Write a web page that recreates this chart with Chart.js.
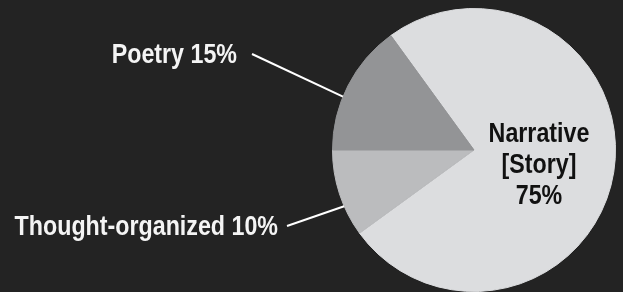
<!DOCTYPE html>
<html lang="en">
<head>
    <meta charset="UTF-8">
    <title>Narrative vs Poetry vs Thought-organized</title>
    <script src="https://cdn.jsdelivr.net/npm/chart.js"></script>
    <style>
        html, body { margin: 0; padding: 0; background: #232323; }
        .chart-container { width: 623px; height: 292px; position: relative; }
    </style>
</head>
<body>
    <div class="chart-container">
        <canvas id="pieChart"></canvas>
    </div>

    <script>
        // data, in drawing order (clockwise)
        const categories = ['Narrative', 'Thought-organized', 'Poetry'];
        const shares = [75, 10, 15];
        const labelLines = [['Narrative', '[Story]', '75%'], ['Thought-organized 10%'], ['Poetry 15%']];

        const sliceColors = ['#dcdddf', '#bbbcbe', '#939496'];
        const fontFamily = '"Liberation Sans", Arial, sans-serif';
        const narrowFactor = 0.83;   // no condensed face installed, so squeeze the regular one

        // where each label sits, relative to the pie centre
        // leader: fraction along the slice where the line touches the rim (null = label inside)
        const labelStyle = [
            { dx: 65, dy: -8, align: 'center', color: '#111111', leader: null },
            { dx: -196, dy: 85, align: 'right', color: '#f4f4f4', leader: 0.35, gap: 9, lineDy: -9 },
            { dx: -237, dy: -87, align: 'right', color: '#f4f4f4', leader: 0.41, gap: 15, lineDy: -9 }
        ];

        const labelPlugin = {
            id: 'pieLabels',
            afterDraw(chart) {
                const ctx = chart.ctx;
                const arcs = chart.getDatasetMeta(0).data;
                arcs.forEach((arc, i) => {
                    const st = labelStyle[i];
                    const p = arc.getProps(['x', 'y', 'startAngle', 'endAngle', 'outerRadius'], true);
                    const tx = p.x + st.dx;
                    const ty = p.y + st.dy;

                    ctx.save();
                    ctx.translate(tx, ty);
                    ctx.scale(narrowFactor, 1);
                    ctx.font = 'bold 28px ' + fontFamily;
                    ctx.textBaseline = 'alphabetic';
                    ctx.fillStyle = st.color;
                    ctx.textAlign = st.align;
                    labelLines[i].forEach((line, k) => ctx.fillText(line, 0, k * 31));
                    ctx.restore();

                    if (st.leader !== null) {
                        const a = p.startAngle + st.leader * (p.endAngle - p.startAngle);
                        const ex = p.x + Math.cos(a) * p.outerRadius;
                        const ey = p.y + Math.sin(a) * p.outerRadius;
                        ctx.save();
                        ctx.strokeStyle = '#ffffff';
                        ctx.lineWidth = 2;
                        ctx.beginPath();
                        ctx.moveTo(tx + st.gap, ty + st.lineDy);
                        ctx.lineTo(ex, ey);
                        ctx.stroke();
                        ctx.restore();
                    }
                });
            }
        };

        new Chart(document.getElementById('pieChart'), {
            type: 'pie',
            data: {
                labels: categories,
                datasets: [{
                    data: shares,
                    backgroundColor: sliceColors,
                    borderColor: sliceColors,   // hides the hairline seams between slices
                    borderWidth: 1
                }]
            },
            options: {
                responsive: true,
                maintainAspectRatio: false,
                animation: false,
                rotation: 324,
                layout: { padding: { left: 331, right: 6, top: 8, bottom: 0 } },
                plugins: {
                    legend: { display: false },
                    tooltip: { enabled: false }
                }
            },
            plugins: [labelPlugin]
        });
    </script>
</body>
</html>
